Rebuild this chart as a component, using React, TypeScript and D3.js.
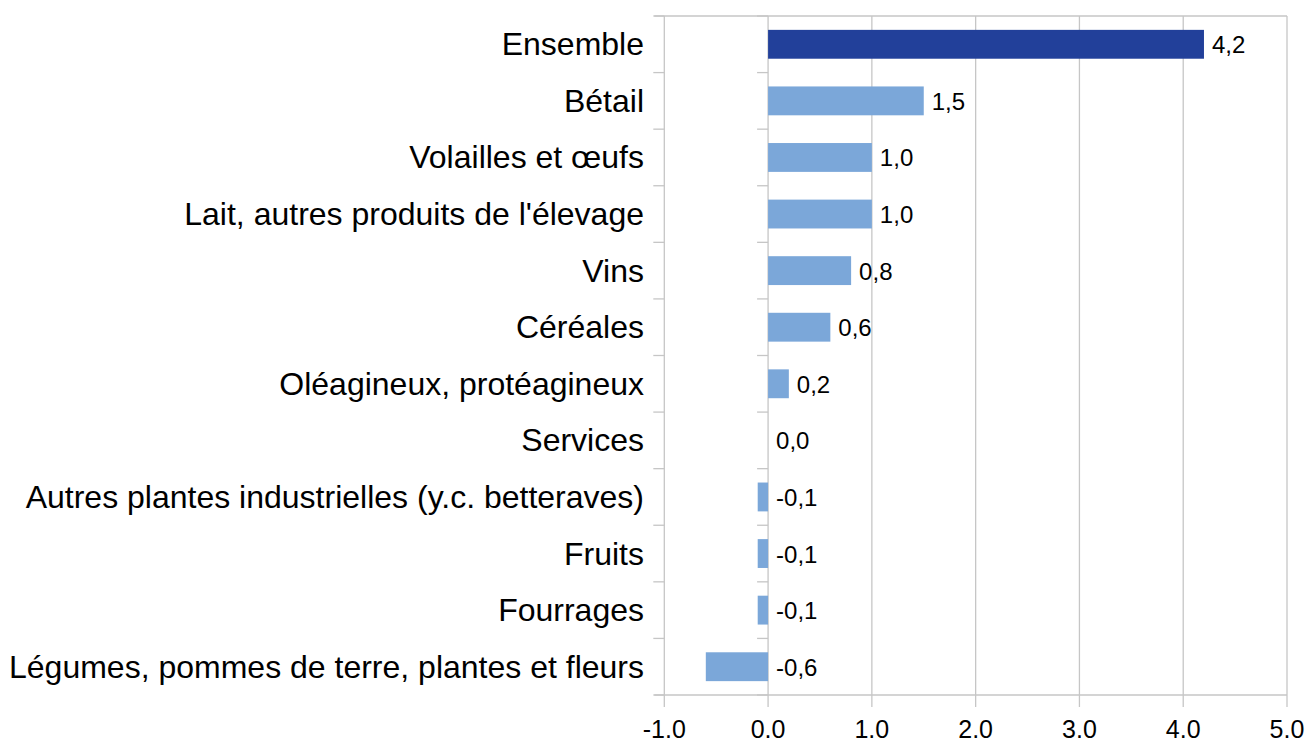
import * as d3 from 'd3';
import { useEffect, useRef } from 'react';

const categories = [
  'Ensemble',
  'Bétail',
  'Volailles et œufs',
  "Lait, autres produits de l'élevage",
  'Vins',
  'Céréales',
  'Oléagineux, protéagineux',
  'Services',
  'Autres plantes industrielles (y.c. betteraves)',
  'Fruits',
  'Fourrages',
  'Légumes, pommes de terre, plantes et fleurs',
];
const values = [4.2, 1.5, 1.0, 1.0, 0.8, 0.6, 0.2, 0.0, -0.1, -0.1, -0.1, -0.6];
const xTicks = [-1, 0, 1, 2, 3, 4, 5];

const WIDTH = 1308;
const HEIGHT = 740;
const FONT = '"Liberation Sans", Arial, sans-serif';

const App: React.FC = () => {
  const ref = useRef(null);

  useEffect(() => {
    const svg = d3.select(ref.current);
    svg.selectAll('*').remove();

    const left = 664.3,
      right = 1287,
      top = 16,
      bottom = 695;
    const grid = '#c6c6c6';

    const xScale = d3.scaleLinear().domain([-1, 5]).range([left, right]);
    const yScale = d3
      .scaleBand()
      .domain(categories)
      .range([top, bottom])
      .paddingInner(0.49)
      .paddingOuter(0.245);
    const step = yScale.step();
    const fmt = (v: number) => d3.format('.1f')(v).replace('.', ',').replace('−', '-');

    const g = svg.append('g');

    // vertical gridlines
    g.selectAll('.grid')
      .data(xTicks)
      .enter()
      .append('line')
      .attr('x1', (d) => xScale(d))
      .attr('x2', (d) => xScale(d))
      .attr('y1', top)
      .attr('y2', bottom + 12)
      .attr('stroke', grid)
      .attr('stroke-width', 1.3);

    // top / bottom lines
    [top, bottom].forEach((y) => {
      g.append('line')
        .attr('x1', left - 10)
        .attr('x2', right)
        .attr('y1', y)
        .attr('y2', y)
        .attr('stroke', grid)
        .attr('stroke-width', 1.3);
    });

    // category ticks on the left axis and on the zero line
    const bounds = d3.range(categories.length + 1).map((i) => top + i * step);
    [left, xScale(0)].forEach((x) => {
      g.selectAll(null)
        .data(bounds)
        .enter()
        .append('line')
        .attr('x1', x - 11)
        .attr('x2', x)
        .attr('y1', (d) => d)
        .attr('y2', (d) => d)
        .attr('stroke', grid)
        .attr('stroke-width', 1.3);
    });

    // bars
    g.selectAll('.bar')
      .data(values)
      .enter()
      .append('rect')
      .attr('x', (d) => xScale(Math.min(0, d)))
      .attr('y', (d, i) => yScale(categories[i]) as number)
      .attr('width', (d) => Math.abs(xScale(d) - xScale(0)))
      .attr('height', yScale.bandwidth())
      .attr('fill', (d, i) => (i === 0 ? '#22409a' : '#7ba7d9'));

    // value labels
    g.selectAll('.val')
      .data(values)
      .enter()
      .append('text')
      .attr('x', (d) => xScale(Math.max(0, d)) + 8)
      .attr('y', (d, i) => (yScale(categories[i]) as number) + yScale.bandwidth() / 2 + 9)
      .attr('font-family', FONT)
      .attr('font-size', 24)
      .attr('fill', '#000')
      .text((d) => fmt(d));

    // category labels
    g.selectAll('.cat')
      .data(categories)
      .enter()
      .append('text')
      .attr('x', 644)
      .attr('y', (d) => (yScale(d) as number) + yScale.bandwidth() / 2 + 11)
      .attr('text-anchor', 'end')
      .attr('font-family', FONT)
      .attr('font-size', 32)
      .attr('fill', '#000')
      .text((d) => d);

    // x tick labels
    g.selectAll('.xt')
      .data(xTicks)
      .enter()
      .append('text')
      .attr('x', (d) => xScale(d))
      .attr('y', 738)
      .attr('text-anchor', 'middle')
      .attr('font-family', FONT)
      .attr('font-size', 25)
      .attr('fill', '#000')
      .text((d) => d3.format('.1f')(d).replace('−', '-'));
  }, []);

  return (
    <svg
      ref={ref}
      width={WIDTH}
      height={HEIGHT}
      style={{ position: 'absolute', left: 0, top: 0, background: '#fff' }}
    ></svg>
  );
};

export default App;
